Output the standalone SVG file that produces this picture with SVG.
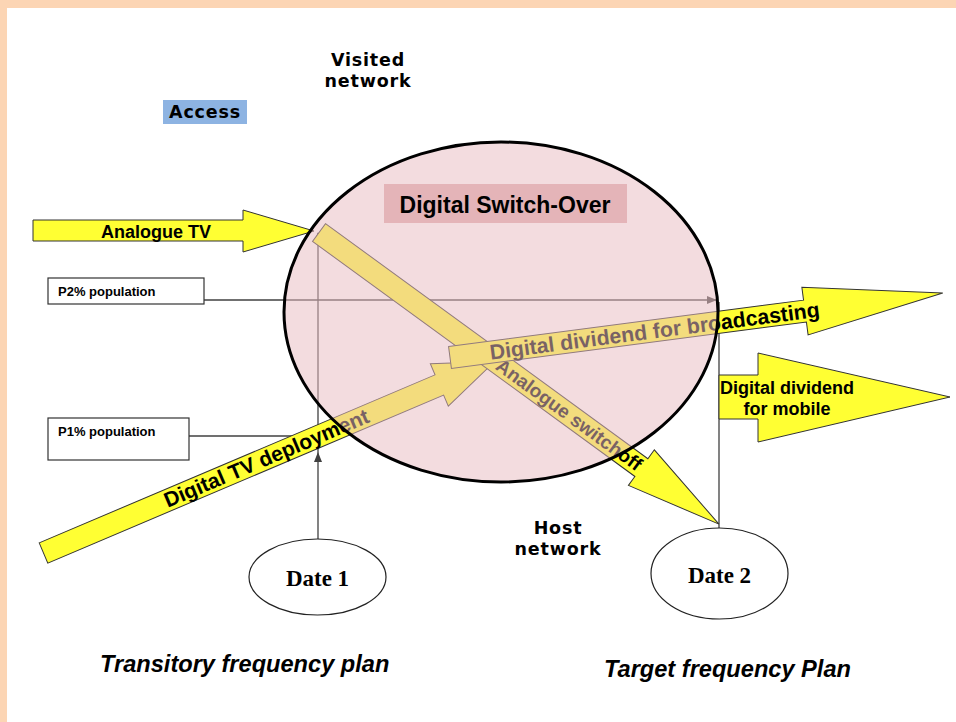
<svg xmlns="http://www.w3.org/2000/svg" width="956" height="722" viewBox="0 0 956 722">
<defs>
<style>
.bg{fill:#ffffff}
.frame{fill:#fcd5b4}
.yarrow{fill:#ffff33;stroke:#333333;stroke-width:1}
.line{fill:none;stroke:#404040;stroke-width:1.3}
.box{fill:#ffffff;stroke:#333333;stroke-width:1.2}
.date{fill:#ffffff;stroke:#222222;stroke-width:1.2}
.arial{font-family:"Liberation Sans",Arial,sans-serif;font-weight:bold;fill:#000}
.calib{font-family:"DejaVu Sans","Liberation Sans",sans-serif;font-weight:bold;fill:#000;font-size:17.5px;letter-spacing:0.8px}
.times{font-family:"Liberation Serif","Times New Roman",serif;font-weight:bold;fill:#000;font-size:23px}
.ital{font-family:"Liberation Sans",Arial,sans-serif;font-weight:bold;font-style:italic;fill:#000;font-size:23.6px}
</style>
<marker id="ah" markerWidth="10" markerHeight="8" refX="9" refY="4" orient="auto" markerUnits="userSpaceOnUse">
<path d="M0,0 L10,4 L0,8 Z" fill="#404040"/>
</marker>
</defs>
<rect class="bg" x="0" y="0" width="956" height="722"/>
<rect class="frame" x="0" y="0" width="956" height="8"/>
<rect class="frame" x="0" y="0" width="7" height="722"/>

<g id="connectors">
<path class="line" d="M204,300 H716" marker-end="url(#ah)"/>
<path class="line" d="M189,436 H318"/>
<path class="line" d="M318,540 V453" marker-end="url(#ah)"/>
<path class="line" d="M318,453 V233" marker-end="url(#ah)"/>
<path class="line" d="M719,528 V302"/>
</g>

<g id="analogue-tv">
<path class="yarrow" d="M33,220 H243 V210 L314,231 L243,252 V241 H33 Z"/>
<text class="arial" x="156" y="238" font-size="18" text-anchor="middle">Analogue TV</text>
</g>

<g id="digital-tv-deployment" transform="translate(43.5,553) rotate(-23)">
<path class="yarrow" d="M0,-11 H430 V-23 L490,0 L430,23 V11 H0 Z"/>
<text class="arial" x="132" y="7" font-size="21">Digital TV deployment</text>
</g>

<g id="analogue-switchoff" transform="translate(319,232.5) rotate(36.1)">
<path class="yarrow" d="M0,-11 H399 V-22 L495,0 L399,22 V11 H0 Z"/>
<text class="arial" x="222" y="6.5" font-size="19">Analogue switchoff</text>
</g>

<g id="digital-dividend-broadcasting" transform="translate(450,357.5) rotate(-7.45)">
<path class="yarrow" d="M0,-11 H358 V-24 L497,0 L358,24 V11 H0 Z"/>
<text class="arial" x="40" y="7.5" font-size="21.3">Digital dividend for broadcasting</text>
</g>

<g id="digital-dividend-mobile">
<path class="yarrow" d="M719,375 H758 V353 L950,397 L758,442 V419 H719 Z"/>
<text class="arial" x="787" y="394" font-size="18" text-anchor="middle">Digital dividend<tspan x="787" dy="21">for mobile</tspan></text>
</g>

<g id="digital-switch-over">
<ellipse cx="501" cy="312" rx="217" ry="170" fill="#e8bcc2" fill-opacity="0.52" stroke="none"/>
<ellipse cx="501" cy="312" rx="217" ry="170" fill="none" stroke="#000" stroke-width="3"/>
<rect x="384" y="184" width="243" height="39" fill="#e4b4b8"/>
<text class="arial" x="505" y="213" font-size="23" text-anchor="middle">Digital Switch-Over</text>
</g>

<g id="p2-population">
<rect class="box" x="48" y="278" width="156" height="26"/>
<text class="arial" x="58" y="296" font-size="13">P2% population</text>
</g>

<g id="p1-population">
<rect class="box" x="48" y="418" width="141" height="42"/>
<text class="arial" x="58" y="436" font-size="13">P1% population</text>
</g>

<g id="date-1">
<ellipse class="date" cx="317.5" cy="577" rx="68.5" ry="38"/>
<text class="times" x="317.5" y="586" text-anchor="middle">Date 1</text>
</g>

<g id="date-2">
<ellipse class="date" cx="719.5" cy="573.5" rx="68.5" ry="45.5"/>
<text class="times" x="719.5" y="583" text-anchor="middle">Date 2</text>
</g>

<g id="access">
<rect x="163" y="100" width="84" height="24" fill="#8db3e2"/>
<text class="calib" x="205" y="118" text-anchor="middle">Access</text>
</g>

<g id="visited-network">
<text class="calib" x="368" y="66" text-anchor="middle">Visited<tspan x="368" dy="21">network</tspan></text>
</g>

<g id="host-network">
<text class="calib" x="558" y="534" text-anchor="middle">Host<tspan x="558" dy="21">network</tspan></text>
</g>

<g id="plans">
<text class="ital" x="100" y="672">Transitory frequency plan</text>
<text class="ital" x="604" y="677">Target frequency Plan</text>
</g>
</svg>
